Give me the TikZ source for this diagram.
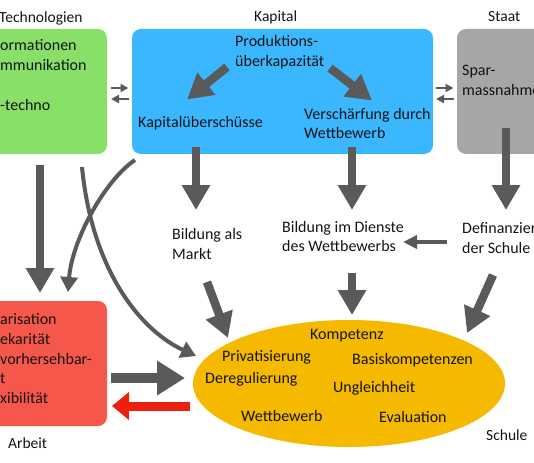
\documentclass[tikz,border=0pt]{standalone}
\usepackage{fontspec}
\setmainfont{Carlito}
\usetikzlibrary{arrows.meta,shapes.geometric}
\definecolor{cgreen}{RGB}{136,224,104}
\definecolor{cblue}{RGB}{59,183,255}
\definecolor{cgray}{RGB}{166,166,166}
\definecolor{cred}{RGB}{245,88,75}
\definecolor{cyel}{RGB}{245,185,0}
\definecolor{carrow}{RGB}{90,90,90}
\definecolor{cbred}{RGB}{235,32,15}
\definecolor{ctext}{RGB}{20,20,20}
\tikzset{
  box/.style={rectangle, rounded corners=9pt, draw=none, inner sep=0pt},
  txt/.style={anchor=base west, inner sep=0pt, text=ctext, font=\fontsize{16}{19.5}\selectfont},
  lbl/.style={anchor=base west, inner sep=0pt, text=ctext, font=\fontsize{15.5}{19}\selectfont},
  bigarrow/.style={draw=carrow, line width=8.5pt, -{Triangle[length=25pt,width=27pt]}},
  midarrow/.style={draw=carrow, line width=4pt, -{Triangle[length=14pt,width=13pt]}},
  curvearrow/.style={draw=carrow, line width=4pt, -{Triangle[length=15pt,width=17pt]}},
  smallarrow/.style={draw=carrow, line width=2.6pt, -{Triangle[length=8pt,width=8pt]}},
}
\begin{document}
\begin{tikzpicture}[x=1pt,y=-1pt]
\useasboundingbox (0,0) rectangle (534,462);
\clip (0,0) rectangle (534,462);

% boxes
\node[box, fill=cgreen, minimum width=134pt, minimum height=125pt] (green) at (40,91.5) {};
\node[box, fill=cblue, minimum width=301pt, minimum height=125pt] (blue) at (282.5,91.5) {};
\node[box, fill=cgray, minimum width=106pt, minimum height=125pt] (gray) at (510,91.5) {};
\node[box, fill=cred, minimum width=134pt, minimum height=125pt] (red) at (40,363.5) {};
\node[ellipse, fill=cyel, draw=none, inner sep=0pt, minimum width=312pt, minimum height=127pt] (school) at (349,383.5) {};

% labels
\node[lbl] (ltech) at (-1,23) {Technologien};
\node[lbl] (lkap) at (254,22) {Kapital};
\node[lbl] (lstaat) at (488,22) {Staat};
\node[lbl] (larb) at (8,448) {Arbeit};
\node[lbl] (lsch) at (486,440) {Schule};

% green texts
\node[txt] (g1) at (0,51) {ormationen};
\node[txt] (g2) at (0,71) {mmunikation};
\node[txt] (g3) at (0,111) {-techno};

% blue texts
\node[txt] (b1) at (235,47) {Produktions-};
\node[txt] (b2) at (235,66.5) {überkapazität};
\node[txt] (b3) at (138,128) {Kapitalüberschüsse};
\node[txt] (b4) at (304,119.5) {Verschärfung durch};
\node[txt] (b5) at (304,139) {Wettbewerb};

% gray texts
\node[txt] (s1) at (462,76) {Spar-};
\node[txt] (s2) at (462,95.5) {massnahme};

% middle texts
\node[txt] (m1) at (172,239.5) {Bildung als};
\node[txt] (m2) at (172,259) {Markt};
\node[txt] (d1) at (282,232) {Bildung im Dienste};
\node[txt] (d2) at (282,251.5) {des Wettbewerbs};
\node[txt] (f1) at (462,233.5) {Definanzier};
\node[txt] (f2) at (462,253) {der Schule};

% red texts
\node[txt] (r1) at (0,324) {arisation};
\node[txt] (r2) at (0,344) {ekarität};
\node[txt] (r3) at (0,364) {vorhersehbar-};
\node[txt] (r4) at (0,383.5) {t};
\node[txt] (r5) at (0,403) {xibilität};

% school texts
\node[txt] (e1) at (310,339) {Kompetenz};
\node[txt] (e2) at (222,361) {Privatisierung};
\node[txt] (e3) at (352,364) {Basiskompetenzen};
\node[txt] (e4) at (205,383) {Deregulierung};
\node[txt] (e5) at (333,392) {Ungleichheit};
\node[txt] (e6) at (241,421) {Wettbewerb};
\node[txt] (e7) at (379,422) {Evaluation};

% arrow end points
\coordinate (pA0) at (227,67);  \coordinate (pA1) at (187,99.5);
\coordinate (pB0) at (330,68);  \coordinate (pB1) at (372,100.5);
\coordinate (gd0) at (40,165);  \coordinate (gd1) at (40,293);
\coordinate (bd0) at (196,147); \coordinate (bd1) at (196,210);
\coordinate (wd0) at (352,147); \coordinate (wd1) at (352,210);
\coordinate (sd0) at (506,128); \coordinate (sd1) at (506,210);
\coordinate (mk0) at (207,282); \coordinate (mk1) at (228,338);
\coordinate (dw0) at (352,273); \coordinate (dw1) at (352,315);
\coordinate (df0) at (493,275); \coordinate (df1) at (467,333);
\coordinate (ra0) at (111,378); \coordinate (ra1) at (185,378);
\coordinate (rb0) at (190,406); \coordinate (rb1) at (112,406);
\coordinate (fw0) at (447,242); \coordinate (fw1) at (403,242);
\coordinate (c10) at (82,167);  \coordinate (c11) at (196,356);
\coordinate (c20) at (135,160); \coordinate (c21) at (68,292);
\coordinate (gb1) at (111,88);  \coordinate (gb2) at (128.5,88);
\coordinate (bg1) at (128.5,99); \coordinate (bg2) at (111,99);
\coordinate (bs1) at (436,88);  \coordinate (bs2) at (453.5,88);
\coordinate (sb1) at (453.5,99); \coordinate (sb2) at (436,99);

% arrows inside Kapital
\draw[bigarrow] (pA0) -- (pA1);
\draw[bigarrow] (pB0) -- (pB1);

% vertical arrows
\draw[bigarrow] (gd0) -- (gd1);
\draw[bigarrow] (bd0) -- (bd1);
\draw[bigarrow] (wd0) -- (wd1);
\draw[bigarrow] (sd0) -- (sd1);
\draw[bigarrow] (mk0) -- (mk1);
\draw[bigarrow] (dw0) -- (dw1);
\draw[bigarrow] (df0) -- (df1);

% Arbeit <-> Schule
\draw[draw=carrow, line width=10pt, -{Triangle[length=28pt,width=33pt]}] (ra0) -- (ra1);
\draw[draw=cbred, line width=9pt, -{Triangle[length=17pt,width=27pt]}] (rb0) -- (rb1);

% Definanzierung -> Wettbewerb
\draw[midarrow] (fw0) -- (fw1);

% curved arrows
\draw[curvearrow] (c10) .. controls (92,270) and (140,330) .. (c11);
\draw[curvearrow] (c20) .. controls (105,180) and (72,240) .. (c21);

% small double arrows
\draw[smallarrow] (gb1) -- (gb2);
\draw[smallarrow] (bg1) -- (bg2);
\draw[smallarrow] (bs1) -- (bs2);
\draw[smallarrow] (sb1) -- (sb2);
\end{tikzpicture}
\end{document}
